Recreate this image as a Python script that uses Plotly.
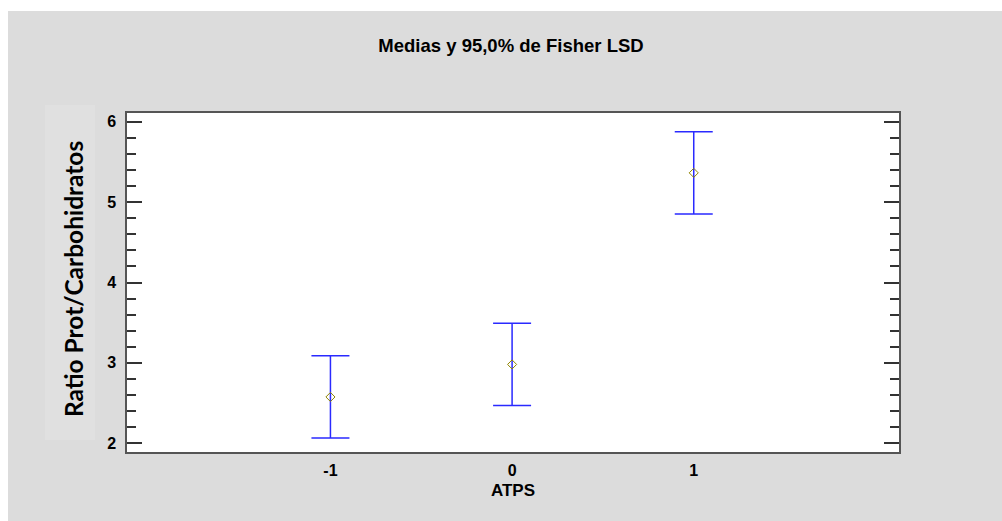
import plotly.graph_objects as go

# Data
categories = [-1, 0, 1]
means = [2.575, 2.98, 5.365]
lsd_half = [0.512, 0.512, 0.512]
x_ticks = [-1, 0, 1]
x_tick_text = ["-1", "0", "1"]
y_ticks = [2, 3, 4, 5, 6]

W, H = 1002, 521
L, R, T, B = 127, 899, 113, 452

def px(x):
    return (x - L) / (R - L)

def py(y):
    return (B - y) / (B - T)

fig = go.Figure()
fig.add_trace(go.Scatter(
    x=categories, y=means, mode="markers",
    marker=dict(symbol="diamond-open", size=7, color="#8f8400", line=dict(width=1)),
    error_y=dict(type="data", array=lsd_half, visible=True, color="#2a2aff",
                 thickness=1.5, width=19),
    showlegend=False, hoverinfo="skip",
))

fig.update_layout(
    width=W, height=H,
    margin=dict(l=L, r=W - R, t=T, b=H - B, pad=0),
    paper_bgcolor="#dcdcdc", plot_bgcolor="white",
    title=dict(text="<b>Medias y 95,0% de Fisher LSD</b>", x=px(511), xref="paper",
               y=1 - 46 / H, yref="container", yanchor="middle", xanchor="center",
               font=dict(family="Liberation Sans, Arial", size=18.5, color="black")),
    font=dict(family="Liberation Sans, Arial", color="black"),
    shapes=[
        dict(type="rect", xref="paper", yref="paper", x0=px(0), x1=px(W), y0=py(0), y1=py(11),
             fillcolor="white", line=dict(width=0), layer="below"),
        dict(type="rect", xref="paper", yref="paper", x0=px(0), x1=px(8), y0=py(0), y1=py(H),
             fillcolor="white", line=dict(width=0), layer="below"),
        dict(type="rect", xref="paper", yref="paper", x0=px(45), x1=px(95), y0=py(105), y1=py(440),
             fillcolor="#e0e0e0", line=dict(width=0), layer="below"),
    ],
    annotations=[
        dict(text="<b>Ratio Prot/Carbohidratos</b>", xref="paper", yref="paper",
             x=px(73), y=py(279), textangle=-90, showarrow=False,
             xanchor="center", yanchor="middle",
             font=dict(family="Lato", size=24.5, color="black")),
    ],
)

fig.update_xaxes(
    range=[-2.12, 2.13], tickvals=x_ticks, ticktext=[f"<b>{t}</b>" for t in x_tick_text],
    showgrid=False, zeroline=False, ticks="",
    showline=True, linecolor="#555", linewidth=1.5, mirror=True,
    tickfont=dict(size=16, family="Liberation Sans, Arial"),
    ticklabelstandoff=3,
    title=dict(text="<b>ATPS</b>", font=dict(size=17, family="Liberation Sans, Arial"), standoff=6),
)
fig.update_yaxes(
    range=[1.89, 6.11], tickvals=y_ticks, ticktext=[f"<b>{t}</b>" for t in y_ticks],
    showgrid=False, zeroline=False,
    ticks="inside", ticklen=15, tickwidth=1.5, tickcolor="#333",
    minor=dict(dtick=0.2, ticks="inside", ticklen=9, tickwidth=1.5, tickcolor="#333", showgrid=False),
    showline=True, linecolor="#555", linewidth=1.5, mirror="ticks",
    tickfont=dict(size=16, family="Liberation Sans, Arial"),
    ticklabelstandoff=6,
)

fig.write_html("out.html")
